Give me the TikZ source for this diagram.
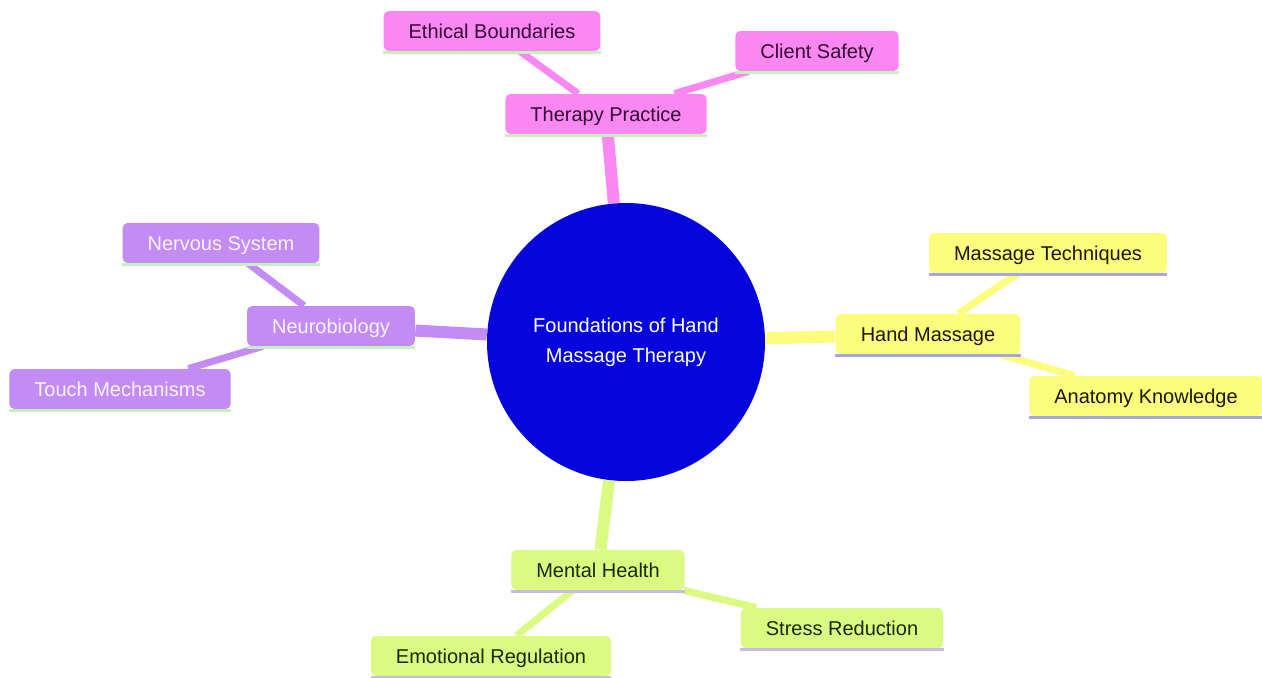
\documentclass[tikz,border=0pt]{standalone}
\usepackage{fontspec}
\setmainfont{Liberation Sans}
\usetikzlibrary{backgrounds}
\definecolor{pinkc}{RGB}{250,135,242}
\definecolor{pinkt}{RGB}{50,10,50}
\definecolor{purpc}{RGB}{195,140,245}
\definecolor{purpt}{RGB}{248,244,255}
\definecolor{yellc}{RGB}{252,252,125}
\definecolor{yellt}{RGB}{25,25,10}
\definecolor{greec}{RGB}{218,250,130}
\definecolor{greet}{RGB}{25,40,10}
\definecolor{ulgreen}{RGB}{200,240,190}
\definecolor{ulblue}{RGB}{165,165,225}
\definecolor{ullav}{RGB}{200,185,235}
\definecolor{rootc}{RGB}{5,5,220}
\tikzset{
  box/.style={rectangle, rounded corners=2.5pt, inner xsep=12.5pt, inner ysep=0pt,
    minimum height=20pt, text height=7.2pt, text depth=0pt, font=\fontsize{10}{12}\selectfont},
  pinkbox/.style={box, fill=pinkc, text=pinkt},
  purpbox/.style={box, fill=purpc, text=purpt},
  yellbox/.style={box, fill=yellc, text=yellt},
  greebox/.style={box, fill=greec, text=greet},
  rootnode/.style={circle, fill=rootc, text=white, minimum size=139pt, inner sep=0pt,
    align=center, font=\fontsize{10}{15}\selectfont},
  mainedge/.style={line width=6pt},
  subedge/.style={line width=3.5pt},
  uline/.style={line width=1.5pt}
}
\begin{document}
\begin{tikzpicture}[x=0.5pt, y=-0.5pt]
\useasboundingbox (0,0) rectangle (1262,677);
\node[rootnode] (root) at (626,342) {Foundations of Hand\\Massage Therapy};
% pink branch
\node[pinkbox] (tp) at (606,114) {Therapy Practice};
\node[pinkbox] (eb) at (492,31) {Ethical Boundaries};
\node[pinkbox] (cs) at (817,51) {Client Safety};
% purple branch
\node[purpbox] (nb) at (331,326) {Neurobiology};
\node[purpbox] (ns) at (221,243) {Nervous System};
\node[purpbox] (tm) at (120,389) {Touch Mechanisms};
% yellow branch
\node[yellbox] (hm) at (928,334) {Hand Massage};
\node[yellbox] (mt) at (1048,253) {Massage Techniques};
\node[yellbox] (ak) at (1146,396) {Anatomy Knowledge};
% green branch
\node[greebox] (mh) at (598,570) {Mental Health};
\node[greebox] (sr) at (842,628) {Stress Reduction};
\node[greebox] (er) at (491,656) {Emotional Regulation};
% underlines
\foreach \n/\c in {tp/ulgreen, eb/ulgreen, cs/ulgreen, nb/ulgreen, ns/ulgreen, tm/ulgreen,
  hm/ulblue, mt/ulblue, ak/ulblue, mh/ullav, sr/ullav, er/ullav}
  \draw[uline, \c] ([yshift=-0.75pt]\n.south west) -- ([yshift=-0.75pt]\n.south east);
\begin{pgfonlayer}{background}
  \draw[mainedge, pinkc] (root) -- (tp);
  \draw[subedge, pinkc] (tp) -- (eb);
  \draw[subedge, pinkc] (tp) -- (cs);
  \draw[mainedge, purpc] (root) -- (nb);
  \draw[subedge, purpc] (nb) -- (ns);
  \draw[subedge, purpc] (nb) -- (tm);
  \draw[mainedge, yellc] (root) -- (hm);
  \draw[subedge, yellc] (hm) -- (mt);
  \draw[subedge, yellc] (hm) -- (ak);
  \draw[mainedge, greec] (root) -- (mh);
  \draw[subedge, greec] (mh) -- (sr);
  \draw[subedge, greec] (mh) -- (er);
\end{pgfonlayer}
\end{tikzpicture}
\end{document}
